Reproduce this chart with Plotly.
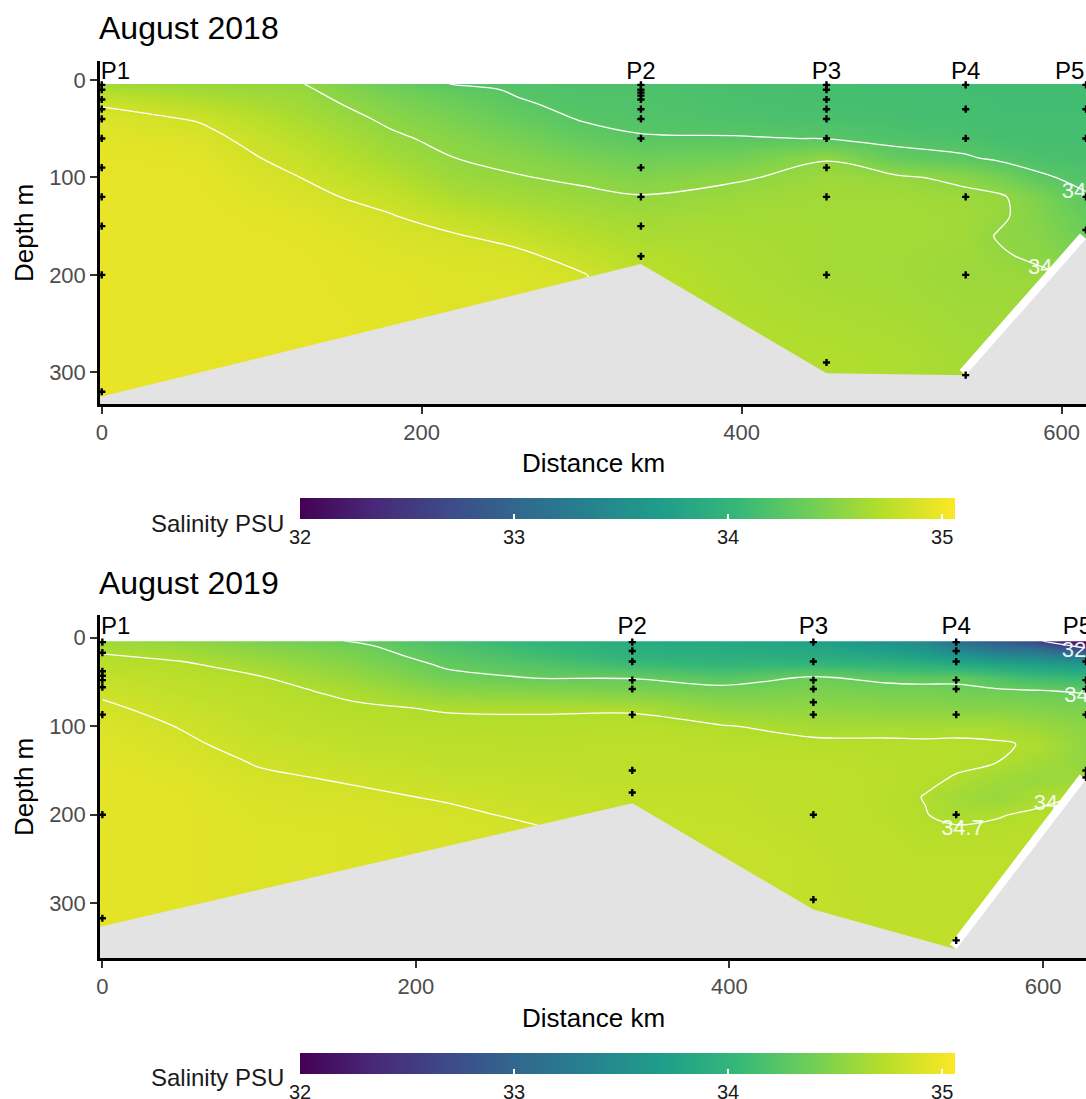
import numpy as np
import plotly.graph_objects as go

W, H = 1086, 1099
FONT = "Liberation Sans, Arial, sans-serif"

# ---------------- DATA: August 2018 ----------------
grid_x_2018 = [0, 60, 124, 180, 221, 260, 300, 337, 395, 453, 497, 540, 560, 585, 615]
grid_depth_2018 = [4, 10, 25, 40, 60, 80, 100, 120, 140, 160, 180, 200, 240, 280, 320, 340]
sal_cols_2018 = [
    [34.62, 34.70, 34.84, 34.90, 34.93, 34.95, 34.96, 34.96, 34.96, 34.96, 34.96, 34.96, 34.96, 34.96, 34.96, 34.96],
    [34.58, 34.63, 34.73, 34.84, 34.90, 34.93, 34.95, 34.95, 34.96, 34.96, 34.96, 34.96, 34.96, 34.96, 34.96, 34.96],
    [34.56, 34.58, 34.62, 34.67, 34.74, 34.80, 34.85, 34.89, 34.92, 34.94, 34.95, 34.95, 34.95, 34.95, 34.95, 34.95],
    [34.35, 34.40, 34.47, 34.52, 34.58, 34.64, 34.72, 34.80, 34.86, 34.89, 34.91, 34.93, 34.94, 34.94, 34.94, 34.94],
    [34.24, 34.30, 34.37, 34.43, 34.50, 34.55, 34.60, 34.68, 34.78, 34.86, 34.89, 34.91, 34.92, 34.92, 34.92, 34.92],
    [34.21, 34.23, 34.27, 34.33, 34.42, 34.50, 34.56, 34.63, 34.72, 34.80, 34.88, 34.90, 34.91, 34.91, 34.91, 34.91],
    [34.18, 34.19, 34.21, 34.24, 34.32, 34.43, 34.52, 34.59, 34.66, 34.72, 34.79, 34.86, 34.88, 34.88, 34.88, 34.88],
    [34.18, 34.19, 34.20, 34.22, 34.26, 34.38, 34.47, 34.56, 34.62, 34.67, 34.72, 34.75, 34.78, 34.80, 34.80, 34.80],
    [34.16, 34.16, 34.17, 34.19, 34.26, 34.40, 34.53, 34.60, 34.64, 34.66, 34.67, 34.68, 34.70, 34.72, 34.73, 34.73],
    [34.14, 34.14, 34.15, 34.17, 34.245, 34.54, 34.60, 34.63, 34.64, 34.64, 34.64, 34.64, 34.67, 34.70, 34.71, 34.71],
    [34.13, 34.13, 34.14, 34.15, 34.20, 34.32, 34.58, 34.63, 34.64, 34.64, 34.63, 34.63, 34.65, 34.68, 34.69, 34.69],
    [34.12, 34.12, 34.13, 34.14, 34.17, 34.27, 34.50, 34.60, 34.62, 34.62, 34.61, 34.60, 34.62, 34.64, 34.65, 34.65],
    [34.12, 34.12, 34.12, 34.13, 34.15, 34.22, 34.42, 34.58, 34.58, 34.54, 34.57, 34.60, 34.62, 34.63, 34.64, 34.64],
    [34.12, 34.12, 34.12, 34.13, 34.14, 34.18, 34.28, 34.45, 34.48, 34.50, 34.52, 34.58, 34.62, 34.63, 34.63, 34.63],
    [34.12, 34.12, 34.12, 34.13, 34.14, 34.16, 34.20, 34.27, 34.33, 34.38, 34.45, 34.52, 34.60, 34.62, 34.62, 34.62],
]
levels_2018 = [34.25, 34.55, 34.85]
bottom_x_2018 = [0, 337, 453, 540, 615.2]
bottom_d_2018 = [325, 189, 301, 303, 163]
stations = ["P1", "P2", "P3", "P4", "P5"]
station_x_2018 = [0, 337, 453, 540, 615.2]
station_label_x_2018 = [8.5, 337, 453, 540, 605]
sample_depths_2018 = [
    [5, 10, 20, 30, 40, 60, 90, 120, 150, 200, 320],
    [5, 10, 13, 16, 20, 30, 40, 60, 90, 120, 150, 181],
    [5, 10, 20, 30, 40, 60, 90, 120, 200, 290],
    [5, 30, 60, 120, 200, 303],
    [5, 30, 60, 120, 154],
]
clabel_x_2018 = [600, 579]
clabel_d_2018 = [115, 194]
clabel_lv_2018 = [34.25, 34.55]

# ---------------- DATA: August 2019 ----------------
grid_x_2019 = [0, 50, 100, 160, 220, 280, 338, 395, 453, 500, 525, 545, 570, 595, 627]
grid_depth_2019 = [4, 10, 20, 30, 45, 60, 80, 100, 120, 140, 160, 180, 200, 220, 250, 300, 350, 370]
sal_cols_2019 = [
    [34.60, 34.65, 34.71, 34.75, 34.79, 34.83, 34.87, 34.90, 34.92, 34.93, 34.94, 34.94, 34.94, 34.94, 34.94, 34.94, 34.94, 34.94],
    [34.55, 34.60, 34.66, 34.72, 34.75, 34.77, 34.81, 34.845, 34.87, 34.90, 34.92, 34.93, 34.93, 34.93, 34.93, 34.93, 34.93, 34.93],
    [34.45, 34.50, 34.56, 34.63, 34.71, 34.74, 34.76, 34.78, 34.81, 34.84, 34.87, 34.89, 34.90, 34.91, 34.91, 34.91, 34.91, 34.91],
    [34.34, 34.40, 34.45, 34.50, 34.58, 34.67, 34.72, 34.74, 34.77, 34.80, 34.84, 34.87, 34.89, 34.90, 34.90, 34.90, 34.90, 34.90],
    [34.15, 34.20, 34.26, 34.32, 34.40, 34.52, 34.69, 34.73, 34.75, 34.77, 34.80, 34.84, 34.87, 34.88, 34.88, 34.88, 34.88, 34.88],
    [34.00, 34.05, 34.12, 34.22, 34.34, 34.48, 34.69, 34.72, 34.74, 34.76, 34.78, 34.80, 34.83, 34.86, 34.87, 34.87, 34.87, 34.87],
    [33.85, 33.90, 33.97, 34.10, 34.34, 34.45, 34.685, 34.74, 34.75, 34.76, 34.77, 34.78, 34.79, 34.80, 34.81, 34.81, 34.81, 34.81],
    [33.82, 33.87, 33.92, 34.02, 34.25, 34.42, 34.55, 34.71, 34.74, 34.76, 34.77, 34.78, 34.78, 34.79, 34.80, 34.80, 34.80, 34.80],
    [33.75, 33.80, 33.88, 34.05, 34.37, 34.45, 34.55, 34.65, 34.73, 34.75, 34.76, 34.76, 34.77, 34.77, 34.78, 34.78, 34.78, 34.78],
    [33.55, 33.65, 33.80, 34.00, 34.30, 34.42, 34.52, 34.66, 34.72, 34.74, 34.74, 34.74, 34.74, 34.75, 34.76, 34.77, 34.77, 34.77],
    [33.45, 33.55, 33.72, 33.95, 34.28, 34.42, 34.52, 34.65, 34.72, 34.73, 34.72, 34.695, 34.705, 34.73, 34.75, 34.76, 34.77, 34.77],
    [33.10, 33.30, 33.60, 33.90, 34.30, 34.40, 34.50, 34.66, 34.72, 34.72, 34.69, 34.63, 34.66, 34.73, 34.75, 34.76, 34.77, 34.77],
    [32.90, 33.10, 33.45, 33.80, 34.20, 34.38, 34.50, 34.66, 34.71, 34.705, 34.62, 34.58, 34.69, 34.73, 34.75, 34.76, 34.77, 34.77],
    [32.70, 33.00, 33.40, 33.75, 34.10, 34.36, 34.48, 34.60, 34.69, 34.64, 34.58, 34.66, 34.72, 34.74, 34.75, 34.76, 34.77, 34.77],
    [32.05, 32.50, 33.20, 33.65, 34.05, 34.33, 34.45, 34.52, 34.55, 34.55, 34.62, 34.71, 34.74, 34.75, 34.76, 34.77, 34.77, 34.77],
]
levels_2019 = [32.6, 34.35, 34.7, 34.85]
bottom_x_2019 = [0, 338, 453.5, 544.6, 627.4]
bottom_d_2019 = [326, 187, 307, 352, 160]
station_x_2019 = [0, 338, 453.5, 544.6, 627.4]
station_label_x_2019 = [8.5, 338, 453.5, 544.6, 622]
sample_depths_2019 = [
    [5, 17, 38, 43, 48, 56, 87, 200, 317],
    [5, 15, 27, 48, 58, 87, 150, 175],
    [5, 27, 48, 58, 73, 87, 200, 296],
    [5, 15, 27, 48, 58, 87, 200, 342],
    [27, 48, 58, 87, 150, 158],
]
clabel_x_2019 = [612, 613.5, 535, 594]
clabel_d_2019 = [16, 67, 217, 188]
clabel_lv_2019 = [32.6, 34.35, 34.7, 34.7]

xticks = [0, 200, 400, 600]
yticks = [0, 100, 200, 300]
cbar_ticks = [32, 33, 34, 35]
CMIN, CMAX = 32, 35.06


def px(x):
    return x / W


def py(y):
    return 1 - y / H


fig = go.Figure()


def add_panel(xa, ya, cax, gx, gd, cols, levels, bx, bd, sx, slx, sdeps,
              clx, cld, cllv, label_depth, xr):
    z = np.array(cols).T
    fig.add_trace(go.Heatmap(x=gx, y=gd, z=z, zsmooth="best", coloraxis=cax,
                             xaxis=xa, yaxis=ya, hoverinfo="skip"))
    for lv in levels:
        fig.add_trace(go.Contour(
            x=gx, y=gd, z=z, xaxis=xa, yaxis=ya, autocontour=False,
            contours=dict(start=lv, end=lv + 0.0001, size=0.001, coloring="none"),
            line=dict(color="white", width=1.3, smoothing=1),
            showscale=False, hoverinfo="skip", showlegend=False))
    # blank the area above the first sampled depth
    fig.add_trace(go.Scatter(
        x=[xr[0] - 10, xr[1] + 20, xr[1] + 20, xr[0] - 10],
        y=[-60, -60, gd[0], gd[0]], fill="toself", fillcolor="white",
        mode="lines", line=dict(width=0), xaxis=xa, yaxis=ya,
        hoverinfo="skip", showlegend=False))
    # contour labels
    fig.add_trace(go.Scatter(
        x=clx, y=cld, mode="text", text=[f"{v:g}" for v in cllv],
        textposition="middle right",
        textfont=dict(family=FONT, size=22, color="rgba(255,255,255,0.92)"),
        xaxis=xa, yaxis=ya, hoverinfo="skip", showlegend=False))
    # unfilled strip above the steep slope
    fig.add_trace(go.Scatter(
        x=bx[-2:], y=bd[-2:], mode="lines", line=dict(color="white", width=16),
        xaxis=xa, yaxis=ya, hoverinfo="skip", showlegend=False))
    # bathymetry
    fig.add_trace(go.Scatter(
        x=list(bx) + [xr[1] + 50, xr[1] + 50, xr[0] - 50, xr[0] - 50],
        y=list(bd) + [bd[-1], 600, 600, bd[0]],
        fill="toself", fillcolor="#E3E3E3", mode="lines", line=dict(width=0),
        xaxis=xa, yaxis=ya, hoverinfo="skip", showlegend=False))
    # sample points
    xs, ys = [], []
    for stx, deps in zip(sx, sdeps):
        xs += [stx] * len(deps)
        ys += deps
    fig.add_trace(go.Scatter(
        x=xs, y=ys, mode="markers",
        marker=dict(symbol="cross", size=6, color="black", line=dict(width=0)),
        xaxis=xa, yaxis=ya, hoverinfo="skip", showlegend=False))
    # station labels
    fig.add_trace(go.Scatter(
        x=slx, y=[label_depth] * len(slx), mode="text", text=stations,
        textposition="middle center",
        textfont=dict(family=FONT, size=24, color="black"),
        xaxis=xa, yaxis=ya, hoverinfo="skip", showlegend=False, cliponaxis=False))


xr18 = [-1.1, 615.2]
xr19 = [-1.5, 627.4]
add_panel("x", "y", "coloraxis", grid_x_2018, grid_depth_2018, sal_cols_2018,
          levels_2018, bottom_x_2018, bottom_d_2018, station_x_2018,
          station_label_x_2018, sample_depths_2018, clabel_x_2018,
          clabel_d_2018, clabel_lv_2018, -7, xr18)
add_panel("x2", "y2", "coloraxis2", grid_x_2019, grid_depth_2019, sal_cols_2019,
          levels_2019, bottom_x_2019, bottom_d_2019, station_x_2019,
          station_label_x_2019, sample_depths_2019, clabel_x_2019,
          clabel_d_2019, clabel_lv_2019, -11, xr19)

axis_common = dict(showline=True, linecolor="black", linewidth=2.5, ticks="outside",
                   ticklen=7, tickwidth=2, tickcolor="#333333", showgrid=False,
                   zeroline=False, automargin=False,
                   tickfont=dict(family=FONT, size=22, color="#4D4D4D"))


def cbar(top_px):
    return dict(orientation="h", x=px(300), xanchor="left", y=py(top_px),
                yanchor="top", len=655 / W, lenmode="fraction", thickness=21,
                thicknessmode="pixels", xpad=0, ypad=0, outlinewidth=0,
                ticks="inside", ticklen=5, tickwidth=1.5, tickcolor="white",
                tickvals=cbar_ticks,
                tickfont=dict(family=FONT, size=20, color="#1A1A1A"))


annotations = []
for title, ty, dty, depy, salty in [("August 2018", 28, 463, 233, 523),
                                    ("August 2019", 583, 1018, 787, 1077)]:
    annotations.append(dict(text=title, x=px(97), y=py(ty), xref="paper", yref="paper",
                            xanchor="left", yanchor="middle", showarrow=False,
                            font=dict(family=FONT, size=32, color="black")))
    annotations.append(dict(text="Distance km", x=px(593), y=py(dty), xref="paper",
                            yref="paper", xanchor="center", yanchor="middle",
                            showarrow=False, font=dict(family=FONT, size=26, color="black")))
    annotations.append(dict(text="Depth m", x=px(24), y=py(depy), xref="paper",
                            yref="paper", xanchor="center", yanchor="middle",
                            textangle=-90, showarrow=False,
                            font=dict(family=FONT, size=26, color="black")))
    annotations.append(dict(text="Salinity PSU", x=px(286), y=py(salty), xref="paper",
                            yref="paper", xanchor="right", yanchor="middle",
                            showarrow=False, font=dict(family=FONT, size=24, color="#1A1A1A")))

fig.update_layout(
    width=W, height=H, margin=dict(l=0, r=0, t=0, b=0, autoexpand=False),
    paper_bgcolor="white", plot_bgcolor="white", template="none", showlegend=False,
    font=dict(family=FONT),
    xaxis=dict(domain=[px(100), 1], range=xr18, anchor="y", tickvals=xticks, **axis_common),
    yaxis=dict(domain=[py(404), py(61)], range=[332.6, -19.5], anchor="x",
               tickvals=yticks, **axis_common),
    xaxis2=dict(domain=[px(100), 1], range=xr19, anchor="y2", tickvals=xticks, **axis_common),
    yaxis2=dict(domain=[py(958), py(615)], range=[361.9, -25.6], anchor="x2",
                tickvals=yticks, **axis_common),
    coloraxis=dict(cmin=CMIN, cmax=CMAX, colorscale="Viridis", colorbar=cbar(498)),
    coloraxis2=dict(cmin=CMIN, cmax=CMAX, colorscale="Viridis", colorbar=cbar(1053)),
    annotations=annotations,
)

fig.write_html("out.html")
